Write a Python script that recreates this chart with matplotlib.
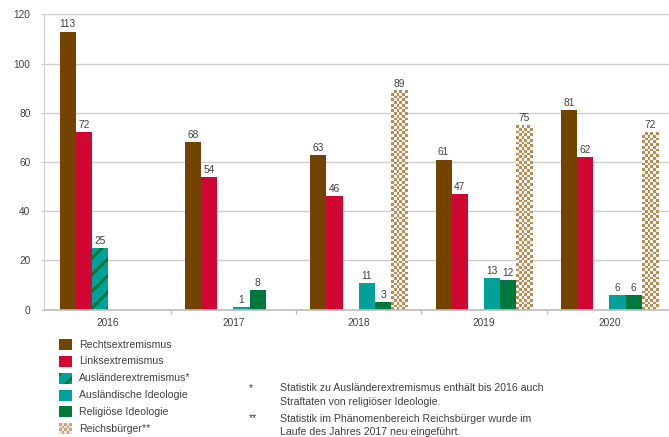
import numpy as np
import matplotlib
matplotlib.use('Agg')
import matplotlib.pyplot as plt
from matplotlib.patches import Rectangle
from matplotlib.colors import ListedColormap

plt.rcParams['font.family'] = ['Liberation Sans', 'DejaVu Sans']
plt.rcParams['hatch.linewidth'] = 2.2

# ---------------- data ----------------
years = ['2016', '2017', '2018', '2019', '2020']
series_names = ['Rechtsextremismus', 'Linksextremismus', 'Ausländerextremismus*',
                'Ausländische Ideologie', 'Religiöse Ideologie', 'Reichsbürger**']
rechts = [113, 68, 63, 61, 81]
links = [72, 54, 46, 47, 62]
auslaenderextremismus = [25, np.nan, np.nan, np.nan, np.nan]
auslaendische_ideologie = [np.nan, 1, 11, 13, 6]
religioese_ideologie = [np.nan, 8, 3, 12, 6]
reichsbuerger = [np.nan, np.nan, 89, 75, 72]
footnotes = [
    ('*', ['Statistik zu Ausländerextremismus enthält bis 2016 auch',
           'Straftaten von religiöser Ideologie.']),
    ('**', ['Statistik im Phänomenbereich Reichsbürger wurde im',
            'Laufe des Jahres 2017 neu eingeführt.']),
]

series = [rechts, links, auslaenderextremismus, auslaendische_ideologie,
          religioese_ideologie, reichsbuerger]

# ---------------- styles ----------------
BROWN = '#734400'
RED = '#d20632'
TEAL = '#00a19b'
GREEN = '#00773d'
TAN = '#b98d5a'
LIGHT = '#fbf7f1'
TXT = '#404040'
GRID = '#cdcdcd'
styles = [
    dict(color=BROWN),
    dict(color=RED),
    dict(facecolor=TEAL, edgecolor=GREEN, hatch='//', linewidth=0),
    dict(color=TEAL),
    dict(color=GREEN),
    dict(facecolor='none', linewidth=0),   # checker drawn separately
]

W, H = 669, 437
fig = plt.figure(figsize=(W / 100, H / 100), dpi=100)
left_px, right_px, top_px, bot_px = 43.7, 672, 14.3, 309.7
ax = fig.add_axes([left_px / W, 1 - bot_px / H, (right_px - left_px) / W, (bot_px - top_px) / H])

x = np.arange(len(years))
bw = 0.129
checker_cmap = ListedColormap([TAN, LIGHT])

def checker(ax, patch, cell_px=2.75):
    x0, y0 = patch.get_x(), patch.get_y()
    w, h = patch.get_width(), patch.get_height()
    # convert to pixels to size the checker cells
    p0 = ax.transData.transform((x0, y0))
    p1 = ax.transData.transform((x0 + w, y0 + h))
    nx = max(1, int(round(abs(p1[0] - p0[0]) / cell_px)))
    ny = max(1, int(round(abs(p1[1] - p0[1]) / cell_px)))
    arr = (np.add.outer(np.arange(ny), np.arange(nx)) % 2).astype(float)
    ax.imshow(arr, cmap=checker_cmap, extent=(x0, x0 + w, y0, y0 + h),
              aspect='auto', interpolation='nearest', origin='lower', zorder=2)

ax.set_xlim(-0.514, 4.5)
ax.set_ylim(0, 120)

for i, (vals, st) in enumerate(zip(series, styles)):
    pos = x + (i - 2.5) * bw
    bars = ax.bar(pos, vals, width=bw, zorder=2, **st)
    for b, v in zip(bars, vals):
        if np.isnan(v):
            continue
        if i == 5:
            checker(ax, b)
        ax.annotate(f'{int(v)}', (b.get_x() + b.get_width() / 2, v),
                    xytext=(0, 1.5), textcoords='offset points',
                    ha='center', va='bottom', fontsize=7.3, color=TXT, zorder=3)

ax.set_xlim(-0.514, 4.5)
ax.set_ylim(0, 120)

ax.set_axisbelow(True)
ax.yaxis.grid(True, color=GRID, lw=1.0)
for s in ['top', 'right']:
    ax.spines[s].set_visible(False)
ax.spines['left'].set_color(GRID)
ax.spines['bottom'].set_color('#bdbdbd')
ax.spines['bottom'].set_linewidth(1.2)

ax.set_yticks(np.arange(0, 121, 20))
ax.tick_params(axis='y', length=2.5, color=GRID, labelsize=7.3, labelcolor=TXT, pad=7)
ax.set_xticks(x)
ax.set_xticklabels(years)
ax.tick_params(axis='x', which='major', length=0, labelsize=7.3, labelcolor=TXT, pad=6)
ax.set_xticks(x[:-1] + 0.5, minor=True)
ax.tick_params(axis='x', which='minor', length=3, color='#bdbdbd', width=1)

# ---------------- legend & footnotes (pixel overlay) ----------------
ov = fig.add_axes([0, 0, 1, 1], zorder=5)
ov.set_xlim(0, W)
ov.set_ylim(H, 0)
ov.axis('off')
ov.patch.set_alpha(0)

row0, dy = 344.7, 16.8
sw_x, sw_w, sw_h = 59, 12.5, 11
for k, (name, st) in enumerate(zip(series_names, styles)):
    cy = row0 + k * dy
    if k == 5:
        nx, ny = 5, 4
        arr = (np.add.outer(np.arange(ny), np.arange(nx)) % 2).astype(float)
        ov.imshow(arr, cmap=ListedColormap(['#c9a77e', '#efe4d4']),
                  extent=(sw_x, sw_x + sw_w, cy + sw_h / 2, cy - sw_h / 2),
                  aspect='auto', interpolation='nearest')
    else:
        kw = dict(st)
        if 'color' in kw:
            kw = dict(facecolor=kw['color'], linewidth=0)
        r = Rectangle((sw_x, cy - sw_h / 2), sw_w, sw_h, **kw)
        ov.add_patch(r)
    ov.text(79, cy, name, ha='left', va='center', fontsize=7.6, color=TXT)
ov.set_xlim(0, W)
ov.set_ylim(H, 0)

fn_rows = [[388, 402], [418.5, 432]]
for (mark, lines), ys in zip(footnotes, fn_rows):
    ov.text(249, ys[0], mark, ha='left', va='center', fontsize=7.6, color=TXT)
    for line, yy in zip(lines, ys):
        ov.text(280, yy, line, ha='left', va='center', fontsize=7.6, color=TXT)

fig.savefig('out.png', dpi=100)
